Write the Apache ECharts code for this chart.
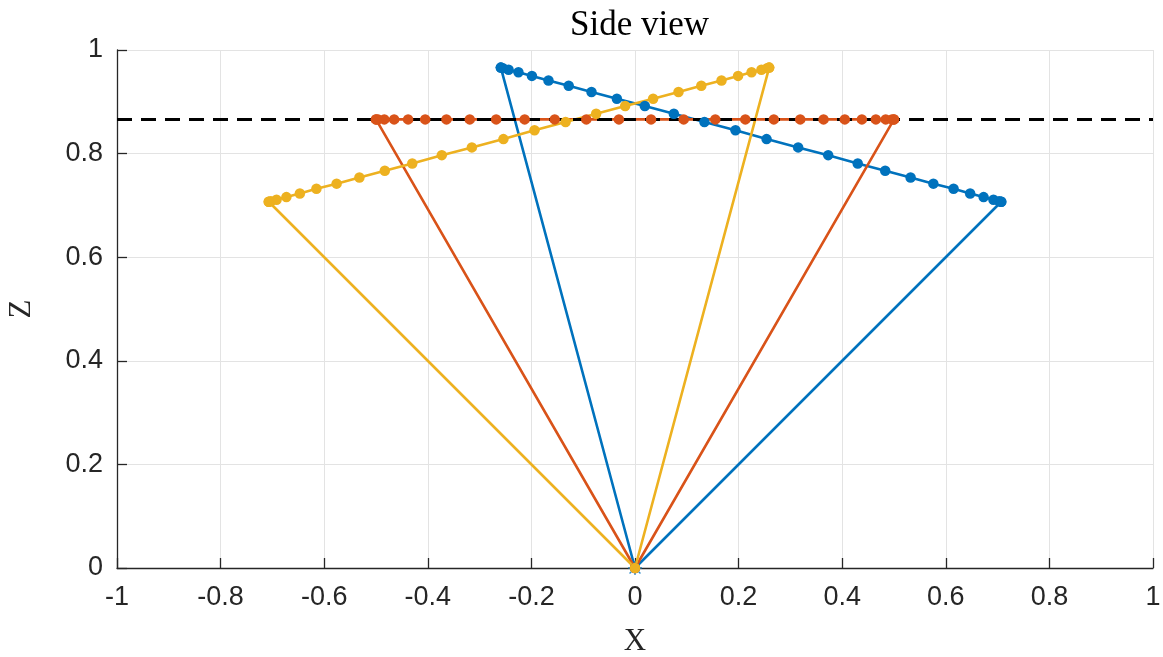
<!DOCTYPE html>
<html>
<head>
<meta charset="utf-8">
<script src="https://cdn.jsdelivr.net/npm/echarts@6/dist/echarts.min.js"></script>
<style>
html,body{margin:0;padding:0;background:#fff;}
#chart{width:1163px;height:657px;}
</style>
</head>
<body>
<div id="chart"></div>
<script>
// Axis ticks
const xTicks = [-1, -0.8, -0.6, -0.4, -0.2, 0, 0.2, 0.4, 0.6, 0.8, 1];
const zTicks = [0, 0.2, 0.4, 0.6, 0.8, 1];
const refZ = 0.866; // dashed reference height

// Blue cone: projected rim points (X, Z)
const blueX = [0.707, 0.703, 0.692, 0.673, 0.647, 0.615, 0.576, 0.532, 0.483, 0.430, 0.373, 0.315, 0.254,
               0.194, 0.134, 0.075, 0.019, -0.035, -0.084, -0.128, -0.167, -0.199, -0.225, -0.244, -0.255, -0.259];
const blueZ = [0.707, 0.708, 0.711, 0.716, 0.723, 0.732, 0.742, 0.754, 0.767, 0.781, 0.797, 0.812, 0.828,
               0.845, 0.861, 0.877, 0.892, 0.906, 0.919, 0.931, 0.941, 0.950, 0.957, 0.962, 0.965, 0.966];
// Orange cone
const orangeX = [0.500, 0.496, 0.484, 0.465, 0.438, 0.405, 0.364, 0.319, 0.268, 0.213, 0.155, 0.094, 0.031,
                 -0.031, -0.094, -0.155, -0.213, -0.268, -0.319, -0.364, -0.405, -0.438, -0.465, -0.484, -0.496, -0.500];
const orangeZ = [0.866, 0.866, 0.866, 0.866, 0.866, 0.866, 0.866, 0.866, 0.866, 0.866, 0.866, 0.866, 0.866,
                 0.866, 0.866, 0.866, 0.866, 0.866, 0.866, 0.866, 0.866, 0.866, 0.866, 0.866, 0.866, 0.866];
// Yellow cone
const yellowX = [-0.707, -0.703, -0.692, -0.673, -0.647, -0.615, -0.576, -0.532, -0.483, -0.430, -0.373, -0.315, -0.254,
                 -0.194, -0.134, -0.075, -0.019, 0.035, 0.084, 0.128, 0.167, 0.199, 0.225, 0.244, 0.255, 0.259];
const yellowZ = [0.707, 0.708, 0.711, 0.716, 0.723, 0.732, 0.742, 0.754, 0.767, 0.781, 0.797, 0.812, 0.828,
                 0.845, 0.861, 0.877, 0.892, 0.906, 0.919, 0.931, 0.941, 0.950, 0.957, 0.962, 0.965, 0.966];
// Cone edges: end1, apex, end2
const blueEdgeX = [0.707, 0, -0.259];
const blueEdgeZ = [0.707, 0, 0.966];
const orangeEdgeX = [0.500, 0, -0.500];
const orangeEdgeZ = [0.866, 0, 0.866];
const yellowEdgeX = [-0.707, 0, 0.259];
const yellowEdgeZ = [0.707, 0, 0.966];
const apex = [[0, 0]];

const BLUE = '#0072BD', ORANGE = '#D95319', YELLOW = '#EDB120';
const AX = '#262626', GRID = '#e3e3e3';
const SANS = '"Liberation Sans", Arial, Helvetica, sans-serif';
const SERIF = '"Liberation Serif", "Times New Roman", serif';

const zip = (a, b) => a.map((v, i) => [v, b[i]]);
const ASTER = 'path://M9,0 L11,0 L11,20 L9,20 Z M0,9 L20,9 L20,11 L0,11 Z M1.5,2.9 L2.9,1.5 L18.5,17.1 L17.1,18.5 Z M17.1,1.5 L18.5,2.9 L2.9,18.5 L1.5,17.1 Z';

function poly(x, z, c) {
  return { type: 'line', data: zip(x, z), symbol: 'circle', symbolSize: 10.5, showSymbol: true,
    lineStyle: { color: c, width: 2.6 }, itemStyle: { color: c }, animation: false, silent: true };
}

const chart = echarts.init(document.getElementById('chart'), null, { renderer: 'canvas' });
chart.setOption({
  backgroundColor: '#ffffff',
  animation: false,
  title: { text: 'Side view', left: 565, top: 3,
    textStyle: { fontFamily: SERIF, fontSize: 35, fontWeight: 'normal', color: '#000' } },
  grid: { left: 117, right: 10, top: 50, bottom: 89, containLabel: false, outerBoundsMode: 'none' },
  xAxis: {
    type: 'value', min: xTicks[0], max: xTicks[xTicks.length - 1], interval: 0.2,
    name: 'X', nameLocation: 'middle', nameGap: 58,
    nameTextStyle: { fontFamily: SERIF, fontSize: 31, color: '#262626' },
    axisLine: { show: true, onZero: false, lineStyle: { color: AX, width: 1.3 } },
    axisTick: { show: true, inside: true, length: 10, lineStyle: { color: AX, width: 1.3 } },
    axisLabel: { fontFamily: SANS, fontSize: 27, color: AX, margin: 16 },
    splitLine: { show: true, lineStyle: { color: GRID, width: 1 } }
  },
  yAxis: {
    type: 'value', min: zTicks[0], max: zTicks[zTicks.length - 1], interval: 0.2,
    name: 'Z', nameLocation: 'middle', nameGap: 80, nameRotate: 90,
    nameTextStyle: { fontFamily: SERIF, fontSize: 31, color: '#262626' },
    axisLine: { show: true, onZero: false, lineStyle: { color: AX, width: 1.3 } },
    axisTick: { show: true, inside: true, length: 10, lineStyle: { color: AX, width: 1.3 } },
    axisLabel: { fontFamily: SANS, fontSize: 27, color: AX, margin: 14 },
    splitLine: { show: true, lineStyle: { color: GRID, width: 1 } }
  },
  series: [
    { type: 'scatter', data: apex, symbol: ASTER, symbolSize: 14, itemStyle: { color: BLUE }, silent: true, animation: false },
    poly(blueX, blueZ, BLUE), poly(blueEdgeX, blueEdgeZ, BLUE),
    poly(orangeX, orangeZ, ORANGE), poly(orangeEdgeX, orangeEdgeZ, ORANGE),
    poly(yellowX, yellowZ, YELLOW), poly(yellowEdgeX, yellowEdgeZ, YELLOW),
    { type: 'line', data: [[xTicks[0], refZ], [xTicks[xTicks.length - 1], refZ]], symbol: 'none',
      lineStyle: { color: '#000', width: 3, type: [15, 9] }, animation: false, silent: true }
  ]
});
</script>
</body>
</html>
